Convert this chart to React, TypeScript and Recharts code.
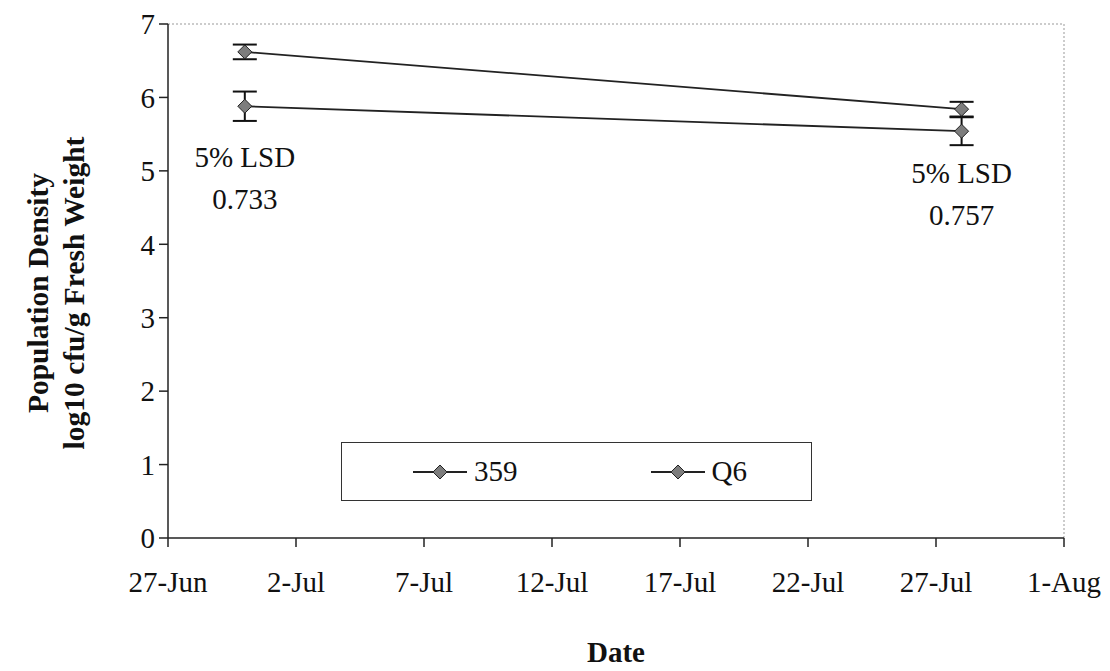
import React from 'react';
import {
  LineChart, Line, XAxis, YAxis, ErrorBar, ReferenceLine, ReferenceDot, Legend,
} from 'recharts';

const FONT = "'Times New Roman', Times, 'Liberation Serif', serif";

// sampling dates and series values (log10 cfu/g)
const dates = ['30-Jun', '28-Jul'];
const s359 = [6.62, 5.84];
const s359Err = [0.1, 0.1];
const q6 = [5.88, 5.54];
const q6Err = [0.2, 0.19];

const xTickLabels = ['27-Jun', '2-Jul', '7-Jul', '12-Jul', '17-Jul', '22-Jul', '27-Jul', '1-Aug'];
const yTicks = [0, 1, 2, 3, 4, 5, 6, 7];

// 5% LSD notes, one per sampling date
const lsdValues = ['0.733', '0.757'];
const lsdAt = [4.9, 4.68];

const MONTHS: Record<string, number> = { Jun: 5, Jul: 6, Aug: 7 };
const ORIGIN = Date.UTC(2000, 5, 27);
function dayOf(s: string) {
  const [d, m] = s.split('-');
  return (Date.UTC(2000, MONTHS[m], Number(d)) - ORIGIN) / 86400000;
}

const xTicks = xTickLabels.map(dayOf);
const data = dates.map((d, i) => ({
  day: dayOf(d),
  s359: s359[i],
  e359: s359Err[i],
  q6: q6[i],
  eq6: q6Err[i],
}));

function Diamond(props: any) {
  const { cx, cy } = props;
  if (cx == null || cy == null) return null;
  const r = 7;
  return (
    <path
      d={`M${cx},${cy - r} L${cx + r},${cy} L${cx},${cy + r} L${cx - r},${cy} Z`}
      fill="#7d7d7d"
      stroke="#222"
      strokeWidth={1}
    />
  );
}

function LegendBox() {
  const item = (name: string) => (
    <div style={{ display: 'flex', alignItems: 'center' }}>
      <svg width={56} height={16}>
        <line x1={1} y1={8} x2={55} y2={8} stroke="#222" strokeWidth={1.8} />
        <Diamond cx={28} cy={8} />
      </svg>
      <span style={{ marginLeft: 6 }}>{name}</span>
    </div>
  );
  return (
    <div
      style={{
        boxSizing: 'border-box', width: '100%', height: '100%',
        border: '1.5px solid #333', background: '#fff',
        display: 'flex', alignItems: 'center', paddingLeft: 70, gap: 132,
        fontFamily: FONT, fontSize: 29, color: '#111',
      }}
    >
      {item('359')}
      {item('Q6')}
    </div>
  );
}

const lsdLabel = (value: string) => (p: any) => {
  const { viewBox } = p;
  const cx = viewBox.x + (viewBox.width || 0) / 2;
  const cy = viewBox.y + (viewBox.height || 0) / 2;
  return (
    <g style={{ fontFamily: FONT }} fontSize={29} fill="#111" textAnchor="middle">
      <text x={cx} y={cy - 21} dominantBaseline="central">5% LSD</text>
      <text x={cx} y={cy + 21} dominantBaseline="central">{value}</text>
    </g>
  );
};

const yTitle = (p: any) => {
  const { viewBox } = p;
  const cy = viewBox.y + viewBox.height / 2 + 12;
  const x1 = viewBox.x - 70;
  const x2 = viewBox.x - 34;
  return (
    <g style={{ fontFamily: FONT }} fontSize={29.5} fontWeight="bold" fill="#111" textAnchor="middle">
      <text x={x1} y={cy} transform={`rotate(-90 ${x1} ${cy})`} dominantBaseline="central">
        Population Density
      </text>
      <text x={x2} y={cy} transform={`rotate(-90 ${x2} ${cy})`} dominantBaseline="central">
        log10 cfu/g Fresh Weight
      </text>
    </g>
  );
};

const xTitle = (p: any) => {
  const { viewBox } = p;
  return (
    <text
      x={viewBox.x + viewBox.width / 2}
      y={viewBox.y + 114}
      style={{ fontFamily: FONT }}
      fontSize={29} fontWeight="bold" fill="#111"
      textAnchor="middle" dominantBaseline="central"
    >
      Date
    </text>
  );
};

export default function App() {
  const tick = { fill: '#111', fontSize: 29, style: { fontFamily: FONT } };
  return (
    <div style={{ position: 'absolute', left: 0, top: 0, background: '#fff', fontFamily: FONT }}>
      <LineChart
        width={1110}
        height={671}
        data={data}
        margin={{ top: 24, right: 46, left: 108, bottom: 53 }}
        style={{ fontFamily: FONT }}
      >
        <XAxis
          type="number"
          dataKey="day"
          domain={[xTicks[0], xTicks[xTicks.length - 1]]}
          ticks={xTicks}
          tickFormatter={(v: number) => xTickLabels[xTicks.indexOf(v)]}
          tick={tick}
          tickSize={9}
          tickMargin={24}
          height={80}
          axisLine={{ stroke: '#222', strokeWidth: 1.5 }}
          tickLine={{ stroke: '#222', strokeWidth: 1.5 }}
          label={xTitle}
        />
        <YAxis
          type="number"
          domain={[0, 7]}
          ticks={yTicks}
          tick={tick}
          tickSize={9}
          tickMargin={4}
          width={60}
          axisLine={{ stroke: '#222', strokeWidth: 1.5 }}
          tickLine={{ stroke: '#222', strokeWidth: 1.5 }}
          label={yTitle}
        />
        <ReferenceLine y={7} stroke="#999" strokeDasharray="2 2" />
        <ReferenceLine x={xTicks[xTicks.length - 1]} stroke="#999" strokeDasharray="2 2" />
        {dates.map((d, i) => (
          <ReferenceDot
            key={d}
            x={dayOf(d)}
            y={lsdAt[i]}
            r={0}
            fill="none"
            stroke="none"
            label={lsdLabel(lsdValues[i])}
          />
        ))}
        <Legend
          layout="horizontal"
          verticalAlign="middle"
          content={() => <LegendBox />}
          wrapperStyle={{ position: 'absolute', left: 341, top: 442, width: 471, height: 59 }}
        />
        <Line
          type="linear"
          dataKey="s359"
          name="359"
          stroke="#222"
          strokeWidth={1.8}
          dot={<Diamond />}
          isAnimationActive={false}
        >
          <ErrorBar dataKey="e359" width={12} stroke="#111" strokeWidth={2} direction="y" />
        </Line>
        <Line
          type="linear"
          dataKey="q6"
          name="Q6"
          stroke="#222"
          strokeWidth={1.8}
          dot={<Diamond />}
          isAnimationActive={false}
        >
          <ErrorBar dataKey="eq6" width={12} stroke="#111" strokeWidth={2} direction="y" />
        </Line>
      </LineChart>
    </div>
  );
}
